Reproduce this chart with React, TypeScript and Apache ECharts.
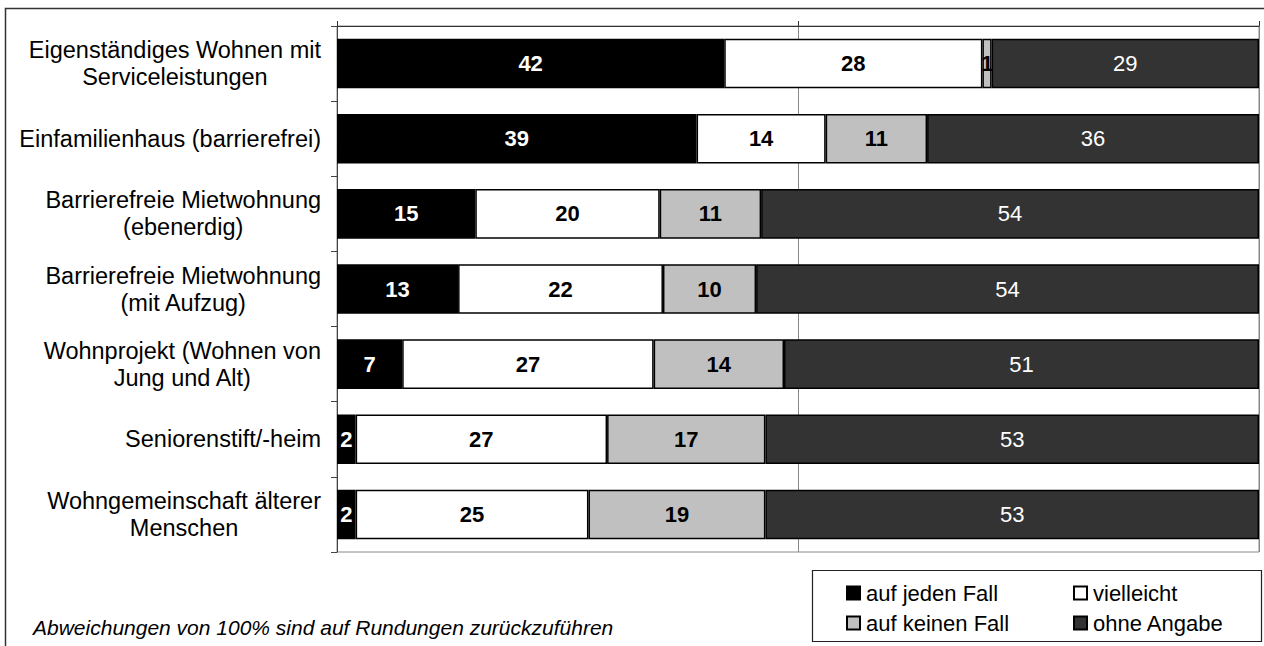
import React, { useEffect, useRef } from "react";
import * as echarts from "echarts";

const categories = [
  "Eigenständiges Wohnen mit\nServiceleistungen",
  "Einfamilienhaus (barrierefrei)",
  "Barrierefreie Mietwohnung\n(ebenerdig)",
  "Barrierefreie Mietwohnung\n(mit Aufzug)",
  "Wohnprojekt (Wohnen von\nJung und Alt)",
  "Seniorenstift/-heim",
  "Wohngemeinschaft älterer\nMenschen",
];

const seriesNames = ["auf jeden Fall", "vielleicht", "auf keinen Fall", "ohne Angabe"];
const aufJedenFall = [42, 39, 15, 13, 7, 2, 2];
const vielleicht = [28, 14, 20, 22, 27, 27, 25];
const aufKeinenFall = [1, 11, 11, 10, 14, 17, 19];
const ohneAngabe = [29, 36, 54, 54, 51, 53, 53];

const footnote = "Abweichungen von 100% sind auf Rundungen zurückzuführen";

const FONT = "'Liberation Sans', Arial, sans-serif";

export default function App() {
  const ref = useRef<HTMLDivElement>(null);

  useEffect(() => {
    if (!ref.current) return;
    const chart = echarts.init(ref.current, undefined, { renderer: "svg" });

    const raw = [aufJedenFall, vielleicht, aufKeinenFall, ohneAngabe];
    const totals = categories.map((_, i) => raw.reduce((s, arr) => s + arr[i], 0));
    const fills = ["#000000", "#ffffff", "#c0c0c0", "#333333"];
    const labelColors = ["#ffffff", "#000000", "#000000", "#ffffff"];
    const labelWeights = ["bold", "bold", "bold", "normal"];

    const series = raw.map((arr, si) => ({
      name: seriesNames[si],
      type: "bar",
      stack: "total",
      barWidth: "66%",
      data: arr.map((v, i) => (v / totals[i]) * 100),
      itemStyle: { color: fills[si], borderColor: "#000", borderWidth: 1.5 },
      label: {
        show: true,
        position: "inside",
        formatter: (p: any) => String(arr[p.dataIndex]),
        color: labelColors[si],
        fontWeight: labelWeights[si],
        fontSize: 22,
        fontFamily: FONT,
      },
      emphasis: { disabled: true },
    }));

    const legendText = { fontSize: 22, fontFamily: FONT, color: "#000", padding: [0, 0, 0, 1] };

    chart.setOption({
      animation: false,
      grid: {
        left: 337,
        top: 26,
        width: 922,
        height: 526,
        show: true,
        borderColor: "#888",
        borderWidth: 1,
        backgroundColor: "transparent",
      },
      xAxis: {
        type: "value",
        position: "top",
        min: 0,
        max: 100,
        interval: 50,
        axisLabel: { show: false },
        axisLine: { show: true, lineStyle: { color: "#333", width: 1 } },
        axisTick: { show: true, length: 5, lineStyle: { color: "#333" } },
        splitLine: { show: true, lineStyle: { color: "#888", width: 1 } },
      },
      yAxis: {
        type: "category",
        data: categories,
        inverse: true,
        axisLine: { show: true, lineStyle: { color: "#444", width: 1 } },
        axisTick: { show: true, length: 6, lineStyle: { color: "#444" } },
        axisLabel: {
          margin: 16,
          align: "right",
          color: "#000",
          fontFamily: FONT,
          fontSize: 23.5,
          formatter: (v: string) =>
            v
              .split("\n")
              .map((l) => `{c|${l}}`)
              .join("\n"),
          rich: {
            c: {
              align: "center",
              fontSize: 23.5,
              lineHeight: 27,
              fontFamily: FONT,
              color: "#000",
            },
          },
        },
        splitLine: { show: false },
      },
      legend: [
        {
          data: [seriesNames[0], seriesNames[2]],
          orient: "vertical",
          left: 846,
          top: 582,
          padding: 0,
          itemWidth: 13,
          itemHeight: 13,
          itemGap: 8,
          icon: "rect",
          selectedMode: false,
          textStyle: legendText,
        },
        {
          data: [seriesNames[1], seriesNames[3]],
          orient: "vertical",
          left: 1073,
          top: 582,
          padding: 0,
          itemWidth: 13,
          itemHeight: 13,
          itemGap: 8,
          icon: "rect",
          selectedMode: false,
          textStyle: legendText,
        },
      ],
      graphic: [
        {
          type: "rect",
          silent: true,
          shape: { x: 5.5, y: 8.5, width: 1400, height: 800 },
          style: { fill: "none", stroke: "#333", lineWidth: 1.5 },
        },
        {
          type: "rect",
          silent: true,
          shape: { x: 812.5, y: 570.5, width: 449, height: 71 },
          style: { fill: "none", stroke: "#222", lineWidth: 1.2 },
        },
        {
          type: "text",
          silent: true,
          x: 33,
          y: 627,
          style: {
            text: footnote,
            fontSize: 21,
            fontStyle: "italic",
            fontFamily: FONT,
            fill: "#000",
            verticalAlign: "middle",
            align: "left",
          },
        },
      ],
      series,
    });

    return () => chart.dispose();
  }, []);

  return (
    <div
      ref={ref}
      style={{ position: "absolute", left: 0, top: 0, width: 1264, height: 646 }}
    />
  );
}
